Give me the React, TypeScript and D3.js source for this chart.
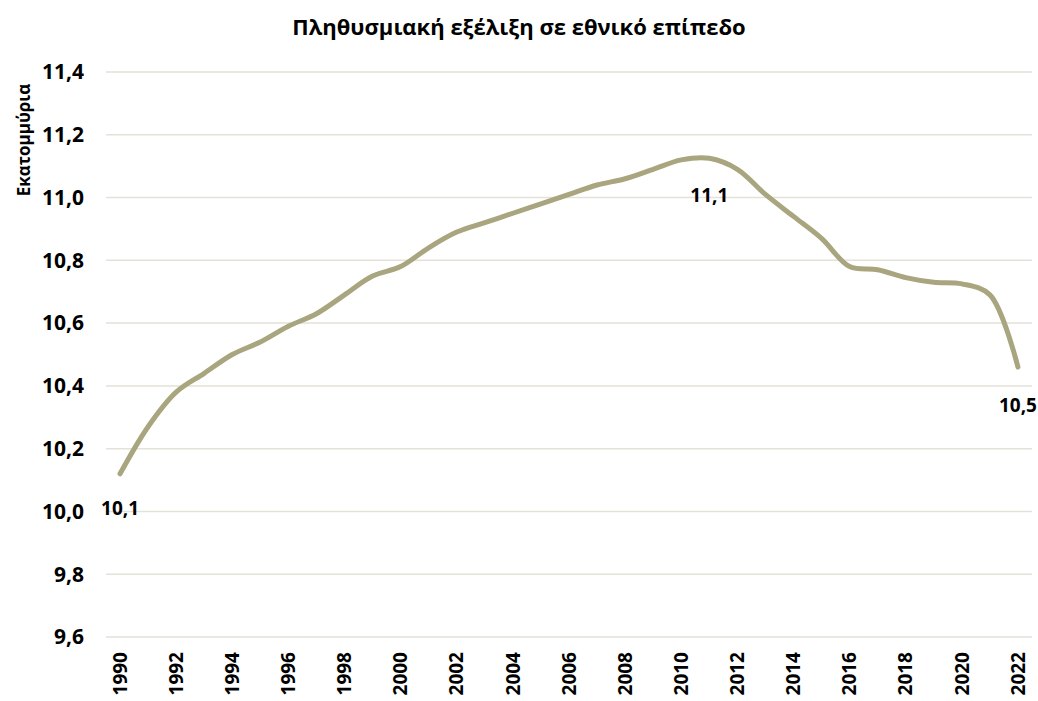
import { useEffect, useRef } from 'react'
import * as d3 from 'd3'

const years = d3.range(1990, 2023).map(String)
const population = [
  10.12, 10.27, 10.38, 10.44, 10.5, 10.54, 10.59, 10.63, 10.69, 10.75, 10.78,
  10.84, 10.89, 10.92, 10.95, 10.98, 11.01, 11.04, 11.06, 11.09, 11.12, 11.125,
  11.09, 11.01, 10.94, 10.87, 10.78, 10.77, 10.745, 10.73, 10.725, 10.69, 10.46,
]
const yTicks = [9.6, 9.8, 10.0, 10.2, 10.4, 10.6, 10.8, 11.0, 11.2, 11.4]
const xTickLabels = years.filter((_, i) => i % 2 === 0)
// points that carry a value label, and how far below the point the label's centre sits
const labelled = [
  { year: '1990', dy: 35 },
  { year: '2011', dy: 37 },
  { year: '2022', dy: 38 },
]

const W = 1038
const H = 701
const margin = { top: 72, right: 6, bottom: 64, left: 106 }
const font = '"Open Sans", "Noto Sans", sans-serif'
const fmt = (v: number) => v.toFixed(1).replace('.', ',')

export default function App() {
  const svgRef = useRef<SVGSVGElement>(null)

  useEffect(() => {
    if (!svgRef.current) return
    const svg = d3.select(svgRef.current)
    svg.selectAll('*').remove()

    const innerW = W - margin.left - margin.right
    const innerH = H - margin.top - margin.bottom

    const x = d3.scaleBand<string>().domain(years).range([margin.left, margin.left + innerW])
    const cx = (y: string) => (x(y) ?? 0) + x.bandwidth() / 2
    const y = d3.scaleLinear().domain([9.6, 11.4]).range([margin.top + innerH, margin.top])

    svg.append('text')
      .attr('x', 519)
      .attr('y', 27)
      .attr('dy', '0.35em')
      .attr('text-anchor', 'middle')
      .attr('font-family', font)
      .attr('font-weight', 700)
      .attr('font-size', 22)
      .text('Πληθυσμιακή εξέλιξη σε εθνικό επίπεδο')

    // gridlines
    svg.append('g')
      .selectAll('line')
      .data(yTicks)
      .join('line')
      .attr('x1', margin.left)
      .attr('x2', margin.left + innerW)
      .attr('y1', d => y(d))
      .attr('y2', d => y(d))
      .attr('stroke', '#e4e1d8')
      .attr('stroke-width', 1.5)

    svg.append('g')
      .selectAll('text')
      .data(yTicks)
      .join('text')
      .attr('x', 84)
      .attr('y', d => y(d))
      .attr('dy', '0.35em')
      .attr('text-anchor', 'end')
      .attr('font-family', font)
      .attr('font-weight', 700)
      .attr('font-size', 21)
      .text(d => fmt(d))

    svg.append('text')
      .attr('transform', `translate(24,140) rotate(-90)`)
      .attr('dy', '0.35em')
      .attr('text-anchor', 'middle')
      .attr('font-family', font)
      .attr('font-weight', 700)
      .attr('font-size', 17)
      .text('Εκατομμύρια')

    svg.append('g')
      .selectAll('text')
      .data(xTickLabels)
      .join('text')
      .attr('transform', d => `translate(${cx(d)},${margin.top + innerH + 15}) rotate(-90)`)
      .attr('dy', '0.35em')
      .attr('text-anchor', 'end')
      .attr('font-family', font)
      .attr('font-weight', 700)
      .attr('font-size', 19)
      .text(d => d)

    const line = d3.line<number>()
      .x((_, i) => cx(years[i]))
      .y(d => y(d))
      .curve(d3.curveCatmullRom.alpha(0.5))

    svg.append('path')
      .datum(population)
      .attr('fill', 'none')
      .attr('stroke', '#a9a57f')
      .attr('stroke-width', 5)
      .attr('stroke-linecap', 'round')
      .attr('stroke-linejoin', 'round')
      .attr('d', line)

    svg.append('g')
      .selectAll('text')
      .data(labelled)
      .join('text')
      .attr('x', d => cx(d.year))
      .attr('y', d => y(population[years.indexOf(d.year)]) + d.dy)
      .attr('dy', '0.35em')
      .attr('text-anchor', 'middle')
      .attr('font-family', font)
      .attr('font-weight', 700)
      .attr('font-size', 19)
      .text(d => fmt(population[years.indexOf(d.year)]))
  }, [])

  return (
    <svg
      ref={svgRef}
      width={W}
      height={H}
      style={{ position: 'absolute', left: 0, top: 0, background: '#fff', display: 'block' }}
    />
  )
}
